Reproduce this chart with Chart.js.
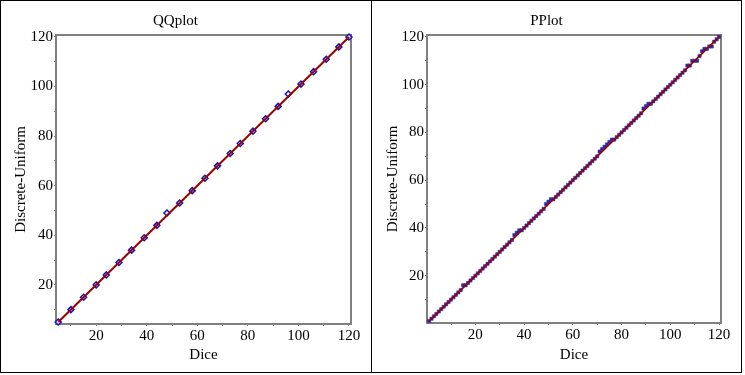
<!DOCTYPE html>
<html><head><meta charset="utf-8">
<script src="https://cdn.jsdelivr.net/npm/chart.js@4/dist/chart.umd.min.js"></script>
<style>
html,body{margin:0;padding:0;background:#fff;}
#wrap{position:relative;width:745px;height:375px;background:#fff;}
.frame{position:absolute;border:1px solid #000;box-sizing:border-box;}
canvas{position:absolute;top:0;}
</style></head><body>
<div id="wrap">
<div class="frame" style="left:0;top:0;width:372px;height:373px"></div>
<div class="frame" style="left:371px;top:0;width:371px;height:373px"></div>
<canvas id="qq" width="371" height="372" style="left:0"></canvas>
<canvas id="pp" width="370" height="372" style="left:372px"></canvas>
</div>
<script>
// ---- data ----
const qqX = [5,10,15,20,24,29,34,39,44,48,53,58,63,68,73,77,82,87,92,96,101,106,111,116,120];
const qqY = [5,10,15,20,24,29,34,39,44,49,53,58,63,68,73,77,82,87,92,97,101,106,111,116,120];
const qqLineX = [5,120];
const qqLineY = [5,120];

const ppX = [1,2,3,4,5,6,7,8,9,10,11,12,13,14,15,16,17,18,19,20,
  21,22,23,24,25,26,27,28,29,30,31,32,33,34,35,36,37,38,39,40,
  41,42,43,44,45,46,47,48,49,50,51,52,53,54,55,56,57,58,59,60,
  61,62,63,64,65,66,67,68,69,70,71,72,73,74,75,76,77,78,79,80,
  81,82,83,84,85,86,87,88,89,90,91,92,93,94,95,96,97,98,99,100,
  101,102,103,104,105,106,107,108,109,110,111,112,113,114,115,116,117,118,119,120];
const ppY = [1,2,3,4,5,6,7,8,9,10,11,12,13,14,16,16,17,18,19,20,
  21,22,23,24,25,26,27,28,29,30,31,32,33,34,35,37,38,39,39,40,
  41,42,43,44,45,46,47,48,50,51,52,52,53,54,55,56,57,58,59,60,
  61,62,63,64,65,66,67,68,69,70,72,73,74,75,76,77,77,78,79,80,
  81,82,83,84,85,86,87,88,90,91,92,92,93,94,95,96,97,98,99,100,
  101,102,103,104,105,106,108,108,110,110,110,112,114,115,115,116,116,118,119,120];
const ppLineX = [1,120];
const ppLineY = [1,120];

const axisTicks = [10,20,30,40,50,60,70,80,90,100,110,120];
const labelEvery = 20;

const titles = {qq:'QQplot', pp:'PPlot', x:'Dice', y:'Discrete-Uniform'};

// ---- helpers ----
const FONT = 'Liberation Serif';
const GREY = '#808080';
const pts = (xs, ys) => xs.map((x,i)=>({x:x, y:ys[i]}));

const framePlugin = {
  id:'frame',
  beforeDatasetsDraw(chart){
    const {ctx, chartArea:a} = chart;
    ctx.save();
    ctx.strokeStyle = GREY; ctx.lineWidth = 2;
    ctx.strokeRect(a.left, a.top, a.right-a.left, a.bottom-a.top);
    ctx.restore();
  }
};

function makeScale(min, max, isY, fixedSize){
  return {
    type:'linear', min:min, max:max,
    afterBuildTicks(s){ s.ticks = axisTicks.filter(v=>v>=min && v<=max).map(v=>({value:v})); },
    afterFit(s){ if(isY) s.width = fixedSize; else s.height = fixedSize; },
    grid:{display:true, drawOnChartArea:false, drawTicks:true, tickLength:2, color:GREY, lineWidth:1},
    border:{display:false},
    ticks:{
      padding:1, color:'#000', maxRotation:0, autoSkip:false,
      font:{family:FONT, size:15},
      callback:(v)=> (v % labelEvery === 0 ? String(v) : '')
    },
    title:{
      display:true, text: isY ? titles.y : titles.x, color:'#000',
      font:{family:FONT, size:15},
      padding: isY ? {top:12, bottom:0} : {top:0, bottom:8}
    }
  };
}

function makeChart(id, title, pointsX, pointsY, lineX, lineY, xr, yr, yW, xH, padR, lineW, pointOpts){
  return new Chart(document.getElementById(id), {
    type:'scatter',
    data:{datasets:[
      {data:pts(lineX, lineY), showLine:true, borderColor:'#990000', borderWidth:lineW,
       pointRadius:0, clip:false},
      Object.assign({data:pts(pointsX, pointsY), showLine:false, clip:false}, pointOpts)
    ]},
    options:{
      responsive:false, animation:false,
      layout:{padding:{left:0, right:padR, top:0, bottom:0}},
      plugins:{
        legend:{display:false}, tooltip:{enabled:false},
        title:{display:true, text:title, color:'#000',
               font:{family:FONT, size:15, weight:'normal'},
               padding:{top:12, bottom:5}}
      },
      scales:{ x: makeScale(xr[0], xr[1], false, xH), y: makeScale(yr[0], yr[1], true, yW) }
    },
    plugins:[framePlugin]
  });
}

makeChart('qq', titles.qq, qqX, qqY, qqLineX, qqLineY, [4.1,120.8], [4.2,120.8], 56, 48, 20, 2,
  {pointStyle:'rectRot', pointRadius:3, pointBorderColor:'#1010c0', pointBackgroundColor:'#ffffff', pointBorderWidth:1.5});
makeChart('pp', titles.pp, ppX, ppY, ppLineX, ppLineY, [0.15,120.8], [0.2,120.8], 55, 49, 21, 1.6,
  {pointStyle:'rect', pointRadius:2.3, pointBorderColor:'#2a2aa8', pointBackgroundColor:'#2a2aa8', pointBorderWidth:0.5});
</script>
</body></html>
